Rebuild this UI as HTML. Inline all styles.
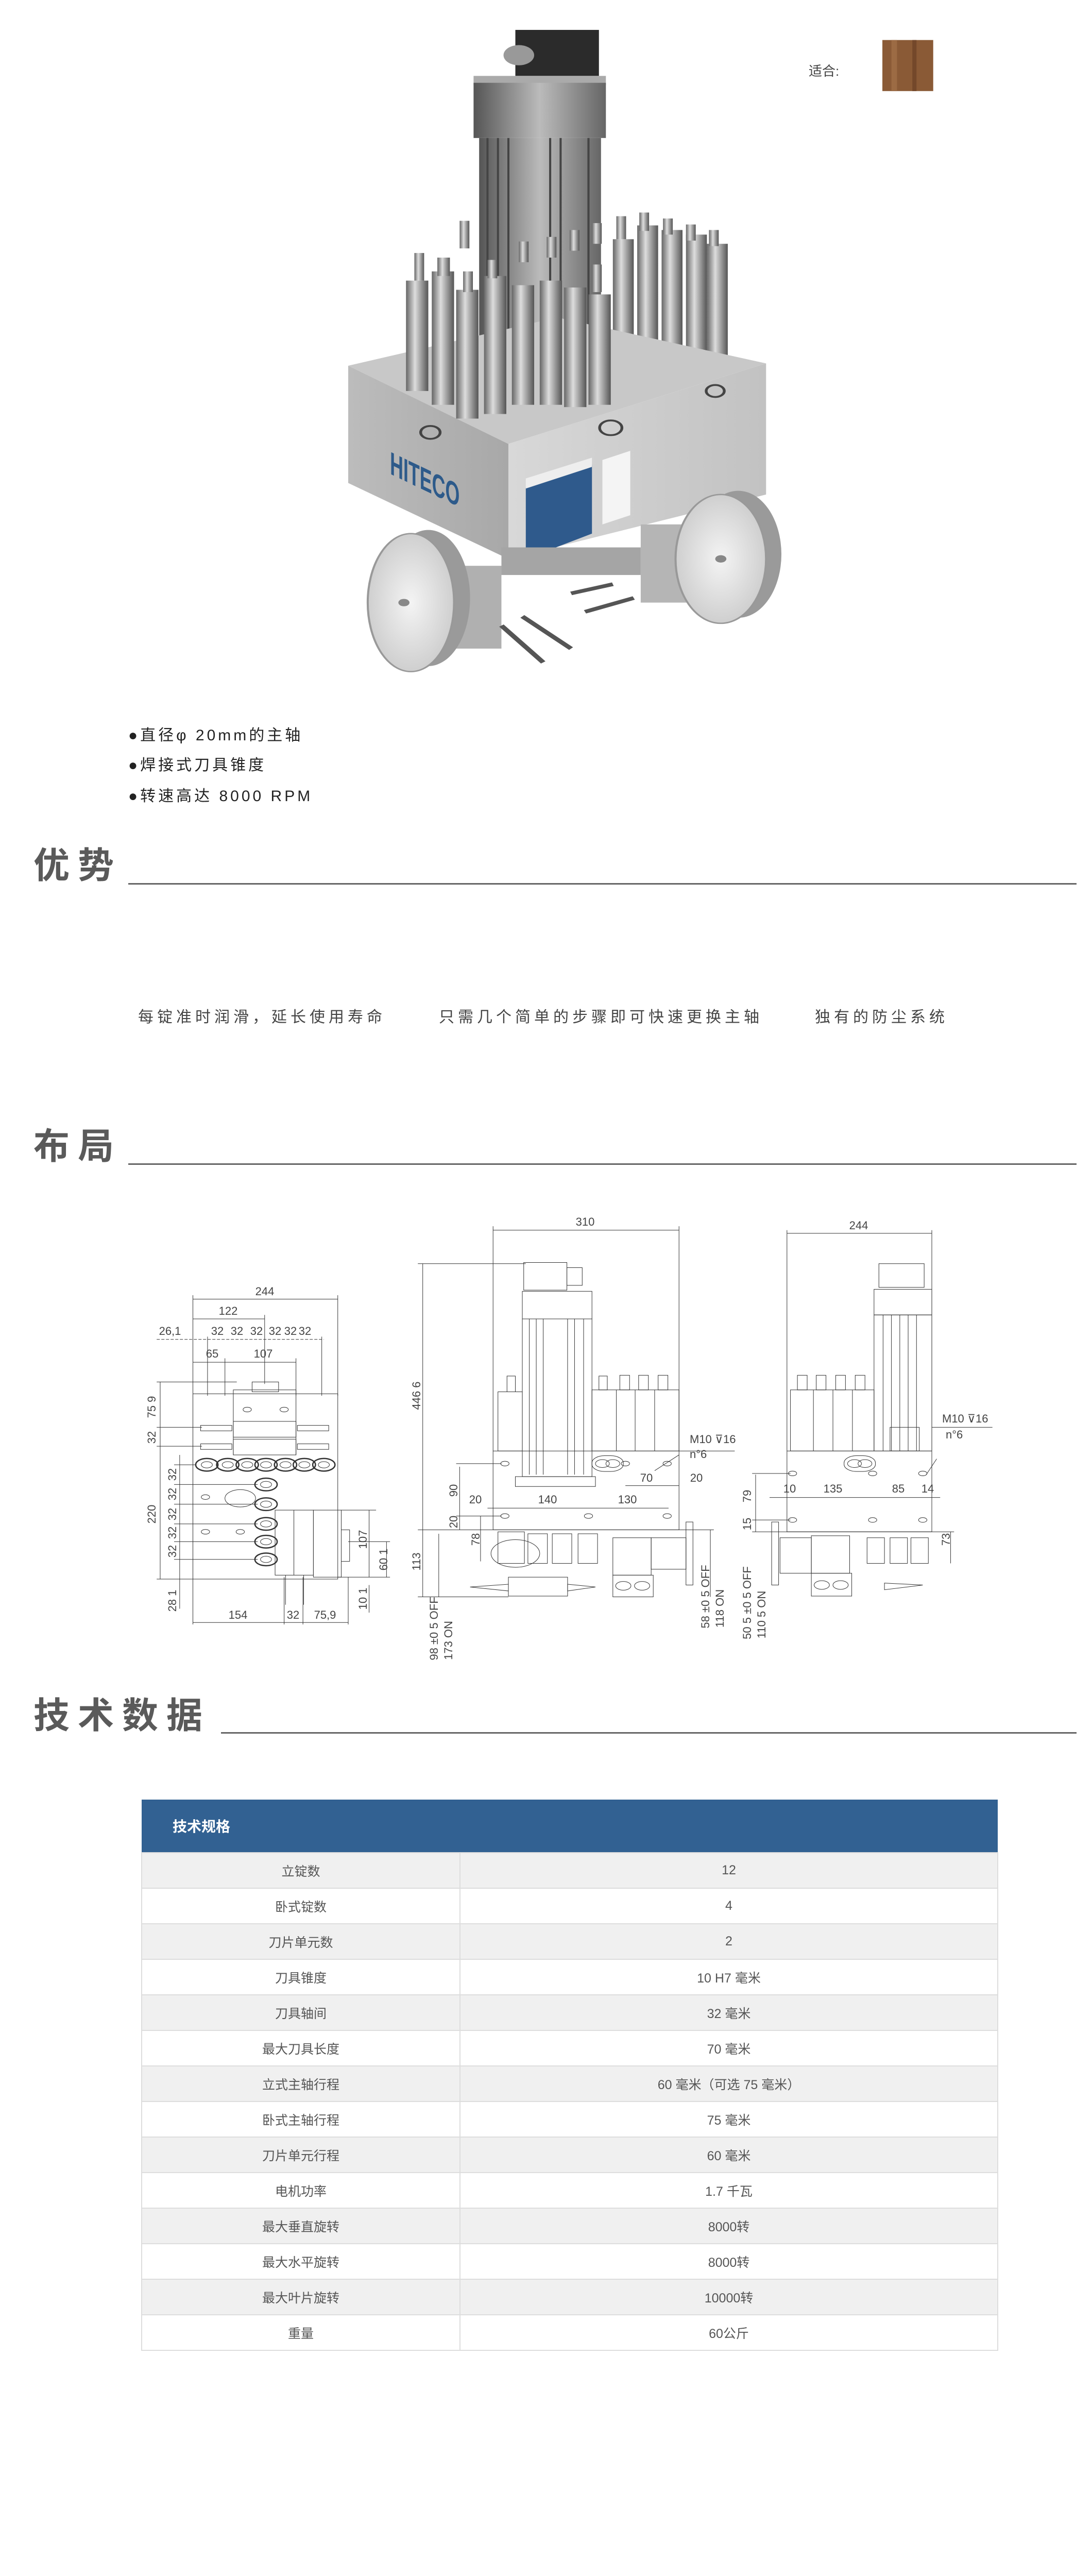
<!DOCTYPE html>
<html><head><meta charset="utf-8">
<style>
html,body{margin:0;padding:0;background:#fff;overflow:hidden;}
body{width:2120px;height:5102px;position:relative;overflow:hidden;font-family:"Liberation Sans","Noto Sans CJK SC",sans-serif;}
.abs{position:absolute;white-space:nowrap;}
.bul{font-size:30px;color:#222;letter-spacing:5px;line-height:36px;}
.h{font-size:70px;color:#5a5a5a;font-weight:bold;letter-spacing:16px;line-height:70px;}
.hl{position:absolute;height:3px;background:#666;}
.adv{font-size:30px;color:#444;letter-spacing:7px;line-height:36px;}
table{position:absolute;left:274px;top:3493px;width:1664px;border-collapse:collapse;font-family:"Liberation Sans","Noto Sans CJK SC",sans-serif;}
th{background:#326192;color:#fff;text-align:left;font-size:28px;height:102px;padding:0 0 0 60px;font-weight:bold;}
td{height:67px;border:2px solid #ddd;font-size:25px;color:#555;text-align:center;padding:0;}
tr:nth-child(even) td{background:#f0f0f0;}
</style></head><body>

<svg class="abs" style="left:0;top:0" width="2120" height="1400" viewBox="0 0 1568 1568" preserveAspectRatio="none">
<defs>
<linearGradient id="cyl" x1="0" x2="1"><stop offset="0" stop-color="#666"/><stop offset=".4" stop-color="#ddd"/><stop offset="1" stop-color="#555"/></linearGradient>
<linearGradient id="mot" x1="0" x2="1"><stop offset="0" stop-color="#555"/><stop offset=".5" stop-color="#bbb"/><stop offset="1" stop-color="#666"/></linearGradient>
<linearGradient id="fr" x1="0" x2="1"><stop offset="0" stop-color="#d8d8d8"/><stop offset="1" stop-color="#c2c2c2"/></linearGradient>
<linearGradient id="lf" x1="0" x2="1"><stop offset="0" stop-color="#bcbcbc"/><stop offset="1" stop-color="#a8a8a8"/></linearGradient>
<radialGradient id="wh"><stop offset="0" stop-color="#f4f4f4"/><stop offset="1" stop-color="#cfcfcf"/></radialGradient>
</defs>
<rect x="1267" y="87" width="73" height="111" fill="#8a5a36"/>
<rect x="1280" y="87" width="8" height="111" fill="#9c6b44"/>
<rect x="1310" y="87" width="6" height="111" fill="#74482a"/>
<rect x="740" y="65" width="120" height="100" fill="#2b2b2b"/>
<circle cx="745" cy="120" r="22" fill="#999"/>
<rect x="680" y="165" width="190" height="20" fill="#aaa"/>
<rect x="680" y="180" width="190" height="120" fill="url(#mot)"/>
<rect x="688" y="300" width="175" height="500" fill="url(#mot)"/>
<g stroke="#444" stroke-width="3">
<line x1="700" y1="300" x2="700" y2="780"/><line x1="715" y1="300" x2="715" y2="780"/><line x1="730" y1="300" x2="730" y2="780"/><line x1="790" y1="300" x2="790" y2="780"/><line x1="805" y1="300" x2="805" y2="780"/><line x1="845" y1="300" x2="845" y2="780"/>
</g>
<g fill="url(#cyl)">
<rect x="880" y="520" width="30" height="290"/><rect x="915" y="490" width="30" height="320"/><rect x="950" y="500" width="30" height="300"/><rect x="985" y="510" width="30" height="290"/><rect x="1015" y="530" width="30" height="270"/>
<rect x="885" y="470" width="14" height="50"/><rect x="918" y="462" width="14" height="40"/><rect x="952" y="475" width="14" height="35"/><rect x="985" y="488" width="14" height="35"/><rect x="1018" y="500" width="14" height="35"/>
</g>
<polygon points="500,795 800,690 1100,790 730,965" fill="#c8c8c8"/>
<polygon points="500,795 730,965 730,1215 500,1050" fill="url(#lf)"/>
<polygon points="730,965 1100,790 1100,1075 730,1215" fill="url(#fr)"/>
<g fill="url(#cyl)">
<rect x="583" y="610" width="32" height="240"/><rect x="620" y="590" width="32" height="290"/><rect x="655" y="630" width="32" height="280"/><rect x="695" y="600" width="32" height="300"/><rect x="735" y="620" width="32" height="260"/><rect x="775" y="610" width="32" height="270"/><rect x="810" y="625" width="32" height="260"/><rect x="845" y="640" width="32" height="240"/>
<rect x="595" y="550" width="14" height="60"/><rect x="628" y="560" width="18" height="40"/><rect x="660" y="480" width="14" height="60"/><rect x="665" y="590" width="14" height="45"/><rect x="700" y="565" width="14" height="40"/><rect x="745" y="525" width="14" height="45"/><rect x="785" y="515" width="14" height="45"/><rect x="818" y="500" width="14" height="45"/><rect x="850" y="575" width="14" height="60"/><rect x="850" y="485" width="14" height="45"/>
</g>
<circle cx="618" cy="940" r="14" fill="none" stroke="#444" stroke-width="4"/>
<circle cx="877" cy="930" r="16" fill="none" stroke="#444" stroke-width="4"/>
<circle cx="1027" cy="850" r="13" fill="none" stroke="#444" stroke-width="4"/>
<text x="560" y="1030" font-family="Liberation Sans" font-weight="bold" font-size="70" fill="#2d5a8a" textLength="100" lengthAdjust="spacingAndGlyphs" style="transform-origin:560px 1030px;transform:skewY(36deg)">HITECO</text>
<polygon points="755,1060 850,1010 850,1160 755,1215" fill="#2f5a8c"/>
<polygon points="755,1040 850,995 850,1015 755,1062" fill="#eee"/>
<polygon points="865,1000 905,980 905,1120 865,1140" fill="#f4f4f4"/>
<rect x="630" y="1230" width="90" height="180" fill="#b0b0b0"/>
<rect x="920" y="1140" width="80" height="170" fill="#b5b5b5"/>
<rect x="720" y="1190" width="200" height="60" fill="#a5a5a5"/>
<g stroke="#555" stroke-width="8">
<line x1="720" y1="1360" x2="780" y2="1440"/><line x1="750" y1="1340" x2="820" y2="1410"/><line x1="820" y1="1290" x2="880" y2="1270"/><line x1="840" y1="1330" x2="910" y2="1300"/>
</g>
<ellipse cx="615" cy="1300" rx="60" ry="148" fill="#9a9a9a"/>
<ellipse cx="590" cy="1310" rx="62" ry="150" fill="url(#wh)" stroke="#999" stroke-width="3"/>
<circle cx="580" cy="1310" r="8" fill="#888"/>
<ellipse cx="1060" cy="1205" rx="62" ry="138" fill="#9a9a9a"/>
<ellipse cx="1035" cy="1215" rx="65" ry="140" fill="url(#wh)" stroke="#999" stroke-width="3"/>
<circle cx="1035" cy="1215" r="8" fill="#888"/>
</svg>
<div class="abs" style="left:1570px;top:118px;font-size:26px;color:#444;">适合:</div>

<div class="abs bul" style="left:249px;top:1410px;">●直径φ 20mm的主轴</div>
<div class="abs bul" style="left:249px;top:1468px;">●焊接式刀具锥度</div>
<div class="abs bul" style="left:249px;top:1528px;">●转速高达 8000 RPM</div>

<div class="abs h" style="left:65px;top:1645px;">优势</div>
<div class="hl" style="left:249px;top:1714px;width:1841px;"></div>

<div class="abs adv" style="left:268px;top:1957px;">每锭准时润滑，延长使用寿命</div>
<div class="abs adv" style="left:852px;top:1957px;">只需几个简单的步骤即可快速更换主轴</div>
<div class="abs adv" style="left:1582px;top:1957px;">独有的防尘系统</div>

<div class="abs h" style="left:65px;top:2190px;">布局</div>
<div class="hl" style="left:249px;top:2258px;width:1841px;"></div>

<svg class="abs" style="left:0;top:2250px" width="2120" height="1200" viewBox="0 0 1568 1568" preserveAspectRatio="none">
<g fill="none" stroke="#333">
<line x1="277" y1="355" x2="485" y2="355" vector-effect="non-scaling-stroke"/>
<line x1="277" y1="405" x2="380" y2="405" vector-effect="non-scaling-stroke"/>
<line x1="225" y1="457" x2="465" y2="457" stroke-dasharray="6 3" vector-effect="non-scaling-stroke"/>
<line x1="277" y1="515" x2="425" y2="515" vector-effect="non-scaling-stroke"/>
<line x1="277" y1="345" x2="277" y2="1180" vector-effect="non-scaling-stroke"/>
<line x1="485" y1="345" x2="485" y2="600" vector-effect="non-scaling-stroke"/>
<line x1="380" y1="395" x2="380" y2="570" vector-effect="non-scaling-stroke"/>
<line x1="323" y1="505" x2="323" y2="600" vector-effect="non-scaling-stroke"/>
<line x1="425" y1="505" x2="425" y2="600" vector-effect="non-scaling-stroke"/>
<line x1="298" y1="450" x2="298" y2="600" vector-effect="non-scaling-stroke"/>
<line x1="462" y1="450" x2="462" y2="600" vector-effect="non-scaling-stroke"/>
<rect x="277" y="595" width="208" height="470" vector-effect="non-scaling-stroke"/>
<rect x="335" y="585" width="90" height="165" vector-effect="non-scaling-stroke"/>
<rect x="362" y="565" width="38" height="25" vector-effect="non-scaling-stroke"/>
<rect x="335" y="665" width="90" height="40" vector-effect="non-scaling-stroke"/>
<rect x="335" y="710" width="90" height="40" vector-effect="non-scaling-stroke"/>
<rect x="288" y="675" width="45" height="14" vector-effect="non-scaling-stroke"/>
<rect x="288" y="722" width="45" height="14" vector-effect="non-scaling-stroke"/>
<rect x="427" y="675" width="45" height="14" vector-effect="non-scaling-stroke"/>
<rect x="427" y="722" width="45" height="14" vector-effect="non-scaling-stroke"/>
<g stroke-width="2.5">
<circle cx="297" cy="775" r="16" vector-effect="non-scaling-stroke"/><circle cx="327" cy="775" r="16" vector-effect="non-scaling-stroke"/><circle cx="355" cy="775" r="16" vector-effect="non-scaling-stroke"/><circle cx="382" cy="775" r="16" vector-effect="non-scaling-stroke"/><circle cx="410" cy="775" r="16" vector-effect="non-scaling-stroke"/><circle cx="437" cy="775" r="16" vector-effect="non-scaling-stroke"/><circle cx="465" cy="775" r="16" vector-effect="non-scaling-stroke"/>
<circle cx="382" cy="825" r="16" vector-effect="non-scaling-stroke"/><circle cx="382" cy="875" r="16" vector-effect="non-scaling-stroke"/><circle cx="382" cy="925" r="16" vector-effect="non-scaling-stroke"/><circle cx="382" cy="970" r="16" vector-effect="non-scaling-stroke"/><circle cx="382" cy="1015" r="16" vector-effect="non-scaling-stroke"/>
</g>
<circle cx="297" cy="775" r="8" vector-effect="non-scaling-stroke"/><circle cx="327" cy="775" r="8" vector-effect="non-scaling-stroke"/><circle cx="355" cy="775" r="8" vector-effect="non-scaling-stroke"/><circle cx="382" cy="775" r="8" vector-effect="non-scaling-stroke"/><circle cx="410" cy="775" r="8" vector-effect="non-scaling-stroke"/><circle cx="437" cy="775" r="8" vector-effect="non-scaling-stroke"/><circle cx="465" cy="775" r="8" vector-effect="non-scaling-stroke"/>
<circle cx="382" cy="825" r="8" vector-effect="non-scaling-stroke"/><circle cx="382" cy="875" r="8" vector-effect="non-scaling-stroke"/><circle cx="382" cy="925" r="8" vector-effect="non-scaling-stroke"/><circle cx="382" cy="970" r="8" vector-effect="non-scaling-stroke"/><circle cx="382" cy="1015" r="8" vector-effect="non-scaling-stroke"/>
<circle cx="345" cy="860" r="22" vector-effect="non-scaling-stroke"/>
<circle cx="295" cy="857" r="6" vector-effect="non-scaling-stroke"/><circle cx="295" cy="945" r="6" vector-effect="non-scaling-stroke"/><circle cx="345" cy="945" r="6" vector-effect="non-scaling-stroke"/><circle cx="355" cy="635" r="6" vector-effect="non-scaling-stroke"/><circle cx="408" cy="635" r="6" vector-effect="non-scaling-stroke"/>
<rect x="395" y="890" width="55" height="165" vector-effect="non-scaling-stroke"/>
<line x1="422" y1="890" x2="422" y2="1055" vector-effect="non-scaling-stroke"/>
<rect x="450" y="890" width="40" height="170" vector-effect="non-scaling-stroke"/>
<rect x="490" y="940" width="12" height="80" vector-effect="non-scaling-stroke"/>
<line x1="410" y1="1055" x2="410" y2="1130" vector-effect="non-scaling-stroke"/><line x1="436" y1="1055" x2="436" y2="1130" vector-effect="non-scaling-stroke"/>
<line x1="230" y1="565" x2="230" y2="1065" vector-effect="non-scaling-stroke"/>
<line x1="258" y1="750" x2="258" y2="1140" vector-effect="non-scaling-stroke"/>
<line x1="225" y1="1065" x2="277" y2="1065" vector-effect="non-scaling-stroke"/>
<line x1="225" y1="565" x2="340" y2="565" vector-effect="non-scaling-stroke"/>
<line x1="225" y1="680" x2="290" y2="680" vector-effect="non-scaling-stroke"/><line x1="225" y1="728" x2="290" y2="728" vector-effect="non-scaling-stroke"/>
<line x1="250" y1="775" x2="282" y2="775" vector-effect="non-scaling-stroke"/><line x1="250" y1="825" x2="370" y2="825" vector-effect="non-scaling-stroke"/><line x1="250" y1="875" x2="370" y2="875" vector-effect="non-scaling-stroke"/><line x1="250" y1="925" x2="370" y2="925" vector-effect="non-scaling-stroke"/><line x1="250" y1="970" x2="370" y2="970" vector-effect="non-scaling-stroke"/><line x1="250" y1="1015" x2="370" y2="1015" vector-effect="non-scaling-stroke"/>
<line x1="530" y1="890" x2="530" y2="1060" vector-effect="non-scaling-stroke"/><line x1="555" y1="970" x2="555" y2="1060" vector-effect="non-scaling-stroke"/>
<line x1="490" y1="890" x2="540" y2="890" vector-effect="non-scaling-stroke"/><line x1="500" y1="970" x2="560" y2="970" vector-effect="non-scaling-stroke"/><line x1="485" y1="1060" x2="560" y2="1060" vector-effect="non-scaling-stroke"/>
<line x1="530" y1="1080" x2="530" y2="1150" vector-effect="non-scaling-stroke"/>
<line x1="277" y1="1175" x2="500" y2="1175" vector-effect="non-scaling-stroke"/>
<line x1="408" y1="1060" x2="408" y2="1180" vector-effect="non-scaling-stroke"/><line x1="435" y1="1060" x2="435" y2="1180" vector-effect="non-scaling-stroke"/><line x1="500" y1="1060" x2="500" y2="1180" vector-effect="non-scaling-stroke"/>
<line x1="708" y1="180" x2="975" y2="180" vector-effect="non-scaling-stroke"/>
<line x1="708" y1="170" x2="708" y2="740" vector-effect="non-scaling-stroke"/><line x1="975" y1="170" x2="975" y2="740" vector-effect="non-scaling-stroke"/>
<line x1="607" y1="265" x2="607" y2="1110" vector-effect="non-scaling-stroke"/>
<line x1="600" y1="265" x2="755" y2="265" vector-effect="non-scaling-stroke"/>
<rect x="752" y="262" width="62" height="70" vector-effect="non-scaling-stroke"/>
<rect x="814" y="275" width="22" height="45" vector-effect="non-scaling-stroke"/>
<rect x="750" y="335" width="100" height="70" vector-effect="non-scaling-stroke"/>
<rect x="750" y="405" width="100" height="400" vector-effect="non-scaling-stroke"/>
<rect x="740" y="805" width="115" height="25" vector-effect="non-scaling-stroke"/>
<line x1="760" y1="405" x2="760" y2="800" vector-effect="non-scaling-stroke"/><line x1="770" y1="405" x2="770" y2="800" vector-effect="non-scaling-stroke"/><line x1="780" y1="405" x2="780" y2="800" vector-effect="non-scaling-stroke"/><line x1="815" y1="405" x2="815" y2="800" vector-effect="non-scaling-stroke"/><line x1="825" y1="405" x2="825" y2="800" vector-effect="non-scaling-stroke"/><line x1="838" y1="405" x2="838" y2="800" vector-effect="non-scaling-stroke"/>
<rect x="715" y="590" width="35" height="150" vector-effect="non-scaling-stroke"/>
<rect x="728" y="550" width="12" height="40" vector-effect="non-scaling-stroke"/>
<rect x="850" y="585" width="125" height="155" vector-effect="non-scaling-stroke"/>
<line x1="885" y1="585" x2="885" y2="740" vector-effect="non-scaling-stroke"/><line x1="912" y1="585" x2="912" y2="740" vector-effect="non-scaling-stroke"/><line x1="940" y1="585" x2="940" y2="740" vector-effect="non-scaling-stroke"/>
<rect x="860" y="550" width="12" height="35" vector-effect="non-scaling-stroke"/><rect x="890" y="548" width="14" height="37" vector-effect="non-scaling-stroke"/><rect x="917" y="548" width="14" height="37" vector-effect="non-scaling-stroke"/><rect x="945" y="548" width="14" height="37" vector-effect="non-scaling-stroke"/>
<rect x="708" y="740" width="267" height="200" vector-effect="non-scaling-stroke"/>
<rect x="850" y="752" width="45" height="40" rx="18" vector-effect="non-scaling-stroke"/>
<circle cx="865" cy="772" r="10" vector-effect="non-scaling-stroke"/><circle cx="880" cy="772" r="10" vector-effect="non-scaling-stroke"/>
<circle cx="725" cy="772" r="6" vector-effect="non-scaling-stroke"/><circle cx="898" cy="772" r="6" vector-effect="non-scaling-stroke"/><circle cx="958" cy="772" r="6" vector-effect="non-scaling-stroke"/>
<circle cx="725" cy="905" r="6" vector-effect="non-scaling-stroke"/><circle cx="845" cy="905" r="6" vector-effect="non-scaling-stroke"/><circle cx="958" cy="905" r="6" vector-effect="non-scaling-stroke"/>
<line x1="655" y1="772" x2="720" y2="772" vector-effect="non-scaling-stroke"/><line x1="660" y1="780" x2="660" y2="940" vector-effect="non-scaling-stroke"/>
<line x1="655" y1="905" x2="720" y2="905" vector-effect="non-scaling-stroke"/><line x1="690" y1="905" x2="690" y2="1020" vector-effect="non-scaling-stroke"/>
<line x1="600" y1="940" x2="1025" y2="940" vector-effect="non-scaling-stroke"/>
<line x1="630" y1="950" x2="630" y2="1110" vector-effect="non-scaling-stroke"/>
<line x1="700" y1="885" x2="960" y2="885" vector-effect="non-scaling-stroke"/>
<line x1="898" y1="828" x2="975" y2="828" vector-effect="non-scaling-stroke"/>
<line x1="940" y1="790" x2="975" y2="750" vector-effect="non-scaling-stroke"/>
<line x1="975" y1="740" x2="1055" y2="740" vector-effect="non-scaling-stroke"/>
<rect x="715" y="945" width="38" height="80" vector-effect="non-scaling-stroke"/><rect x="758" y="950" width="28" height="75" vector-effect="non-scaling-stroke"/><rect x="793" y="950" width="28" height="75" vector-effect="non-scaling-stroke"/><rect x="830" y="950" width="28" height="75" vector-effect="non-scaling-stroke"/>
<rect x="880" y="960" width="55" height="95" vector-effect="non-scaling-stroke"/><rect x="935" y="960" width="50" height="80" vector-effect="non-scaling-stroke"/>
<circle cx="740" cy="1000" r="35" vector-effect="non-scaling-stroke"/>
<rect x="730" y="1060" width="85" height="48" vector-effect="non-scaling-stroke"/>
<rect x="880" y="1055" width="58" height="55" vector-effect="non-scaling-stroke"/>
<circle cx="895" cy="1082" r="11" vector-effect="non-scaling-stroke"/><circle cx="922" cy="1082" r="11" vector-effect="non-scaling-stroke"/>
<rect x="985" y="920" width="10" height="160" vector-effect="non-scaling-stroke"/>
<line x1="1020" y1="940" x2="1020" y2="1110" vector-effect="non-scaling-stroke"/>
<line x1="600" y1="1110" x2="730" y2="1110" vector-effect="non-scaling-stroke"/>
<polygon points="675,1085 730,1078 730,1095" vector-effect="non-scaling-stroke"/><polygon points="815,1078 855,1085 815,1095" vector-effect="non-scaling-stroke"/>
<line x1="1130" y1="188" x2="1338" y2="188" vector-effect="non-scaling-stroke"/>
<line x1="1130" y1="180" x2="1130" y2="740" vector-effect="non-scaling-stroke"/><line x1="1338" y1="180" x2="1338" y2="740" vector-effect="non-scaling-stroke"/>
<rect x="1262" y="265" width="65" height="60" vector-effect="non-scaling-stroke"/>
<rect x="1255" y="330" width="83" height="65" vector-effect="non-scaling-stroke"/>
<rect x="1255" y="395" width="83" height="345" vector-effect="non-scaling-stroke"/>
<line x1="1268" y1="395" x2="1268" y2="740" vector-effect="non-scaling-stroke"/><line x1="1280" y1="395" x2="1280" y2="740" vector-effect="non-scaling-stroke"/><line x1="1292" y1="395" x2="1292" y2="740" vector-effect="non-scaling-stroke"/><line x1="1304" y1="395" x2="1304" y2="740" vector-effect="non-scaling-stroke"/><line x1="1316" y1="395" x2="1316" y2="740" vector-effect="non-scaling-stroke"/>
<rect x="1278" y="680" width="42" height="60" vector-effect="non-scaling-stroke"/>
<rect x="1135" y="585" width="120" height="155" vector-effect="non-scaling-stroke"/>
<line x1="1168" y1="585" x2="1168" y2="740" vector-effect="non-scaling-stroke"/><line x1="1196" y1="585" x2="1196" y2="740" vector-effect="non-scaling-stroke"/><line x1="1224" y1="585" x2="1224" y2="740" vector-effect="non-scaling-stroke"/>
<rect x="1145" y="548" width="14" height="37" vector-effect="non-scaling-stroke"/><rect x="1172" y="548" width="14" height="37" vector-effect="non-scaling-stroke"/><rect x="1200" y="548" width="14" height="37" vector-effect="non-scaling-stroke"/><rect x="1228" y="548" width="14" height="37" vector-effect="non-scaling-stroke"/>
<rect x="1130" y="740" width="208" height="205" vector-effect="non-scaling-stroke"/>
<rect x="1212" y="752" width="45" height="40" rx="18" vector-effect="non-scaling-stroke"/>
<circle cx="1227" cy="772" r="10" vector-effect="non-scaling-stroke"/><circle cx="1242" cy="772" r="10" vector-effect="non-scaling-stroke"/>
<circle cx="1138" cy="797" r="6" vector-effect="non-scaling-stroke"/><circle cx="1253" cy="797" r="6" vector-effect="non-scaling-stroke"/><circle cx="1325" cy="797" r="6" vector-effect="non-scaling-stroke"/>
<circle cx="1138" cy="915" r="6" vector-effect="non-scaling-stroke"/><circle cx="1253" cy="915" r="6" vector-effect="non-scaling-stroke"/><circle cx="1325" cy="915" r="6" vector-effect="non-scaling-stroke"/>
<line x1="1080" y1="797" x2="1135" y2="797" vector-effect="non-scaling-stroke"/><line x1="1085" y1="800" x2="1085" y2="945" vector-effect="non-scaling-stroke"/>
<line x1="1080" y1="915" x2="1135" y2="915" vector-effect="non-scaling-stroke"/>
<line x1="1105" y1="858" x2="1350" y2="858" vector-effect="non-scaling-stroke"/>
<line x1="1080" y1="945" x2="1370" y2="945" vector-effect="non-scaling-stroke"/>
<line x1="1365" y1="945" x2="1365" y2="1025" vector-effect="non-scaling-stroke"/>
<line x1="1338" y1="680" x2="1425" y2="680" vector-effect="non-scaling-stroke"/>
<line x1="1330" y1="800" x2="1345" y2="760" vector-effect="non-scaling-stroke"/>
<rect x="1120" y="960" width="45" height="90" vector-effect="non-scaling-stroke"/><rect x="1165" y="955" width="55" height="95" vector-effect="non-scaling-stroke"/><rect x="1245" y="960" width="25" height="65" vector-effect="non-scaling-stroke"/><rect x="1278" y="960" width="25" height="65" vector-effect="non-scaling-stroke"/><rect x="1308" y="960" width="25" height="65" vector-effect="non-scaling-stroke"/>
<rect x="1165" y="1050" width="58" height="58" vector-effect="non-scaling-stroke"/>
<circle cx="1180" cy="1080" r="11" vector-effect="non-scaling-stroke"/><circle cx="1207" cy="1080" r="11" vector-effect="non-scaling-stroke"/>
<rect x="1108" y="920" width="10" height="160" vector-effect="non-scaling-stroke"/>
<polygon points="1270,1075 1325,1080 1270,1092" vector-effect="non-scaling-stroke"/>
</g>
</svg>

<!-- drawing labels (undistorted, page coords) -->
<svg class="abs" style="left:0;top:0" width="2120" height="3300" viewBox="0 0 2120 3300" font-family="Liberation Sans" font-size="22" fill="#444" text-anchor="middle">
<text x="514" y="2514">244</text>
<text x="443" y="2552">122</text>
<text x="330" y="2591">26,1</text>
<text x="422" y="2591">32</text><text x="460" y="2591">32</text><text x="498" y="2591">32</text><text x="534" y="2591">32</text><text x="564" y="2591">32</text><text x="592" y="2591">32</text>
<text x="412" y="2635">65</text><text x="511" y="2635">107</text>
<text x="462" y="3142">154</text><text x="569" y="3142">32</text><text x="631" y="3142">75,9</text>
<text transform="translate(302,2731) rotate(-90)">75 9</text>
<text transform="translate(302,2790) rotate(-90)">32</text>
<text transform="translate(342,2862) rotate(-90)">32</text>
<text transform="translate(342,2900) rotate(-90)">32</text>
<text transform="translate(342,2939) rotate(-90)">32</text>
<text transform="translate(342,2975) rotate(-90)">32</text>
<text transform="translate(342,3011) rotate(-90)">32</text>
<text transform="translate(302,2939) rotate(-90)">220</text>
<text transform="translate(342,3107) rotate(-90)">28 1</text>
<text transform="translate(712,2988) rotate(-90)">107</text>
<text transform="translate(752,3027) rotate(-90)">60 1</text>
<text transform="translate(712,3103) rotate(-90)">10 1</text>
<text x="1136" y="2379">310</text>
<text transform="translate(816,2709) rotate(-90)">446 6</text>
<text transform="translate(888,2893) rotate(-90)">90</text>
<text transform="translate(888,2954) rotate(-90)">20</text>
<text transform="translate(931,2988) rotate(-90)">78</text>
<text transform="translate(816,3031) rotate(-90)">113</text>
<text x="923" y="2918">20</text><text x="1063" y="2918">140</text><text x="1218" y="2918">130</text>
<text x="1255" y="2876">70</text><text x="1352" y="2876">20</text>
<text x="1339" y="2801" text-anchor="start">M10 ⊽16</text><text x="1339" y="2830" text-anchor="start">n°6</text>
<text transform="translate(850,3161) rotate(-90)">98 ±0 5 OFF</text>
<text transform="translate(878,3184) rotate(-90)">173 ON</text>
<text transform="translate(1377,3099) rotate(-90)">58 ±0 5 OFF</text>
<text transform="translate(1405,3122) rotate(-90)">118 ON</text>
<text x="1667" y="2386">244</text>
<text x="1533" y="2897">10</text><text x="1617" y="2897">135</text><text x="1744" y="2897">85</text><text x="1801" y="2897">14</text>
<text transform="translate(1458,2904) rotate(-90)">79</text>
<text transform="translate(1458,2958) rotate(-90)">15</text>
<text transform="translate(1844,2988) rotate(-90)">73</text>
<text x="1829" y="2761" text-anchor="start">M10 ⊽16</text><text x="1836" y="2792" text-anchor="start">n°6</text>
<text transform="translate(1458,3111) rotate(-90)">50 5 ±0 5 OFF</text>
<text transform="translate(1486,3134) rotate(-90)">110 5 ON</text>
</svg>

<div class="abs h" style="left:65px;top:3295px;">技术数据</div>
<div class="hl" style="left:429px;top:3362px;width:1661px;"></div>

<table>
<tr><th colspan="2">技术规格</th></tr>
<tr><td style="width:616px">立锭数</td><td>12</td></tr>
<tr><td>卧式锭数</td><td>4</td></tr>
<tr><td>刀片单元数</td><td>2</td></tr>
<tr><td>刀具锥度</td><td>10 H7 毫米</td></tr>
<tr><td>刀具轴间</td><td>32 毫米</td></tr>
<tr><td>最大刀具长度</td><td>70 毫米</td></tr>
<tr><td>立式主轴行程</td><td>60 毫米（可选 75 毫米）</td></tr>
<tr><td>卧式主轴行程</td><td>75 毫米</td></tr>
<tr><td>刀片单元行程</td><td>60 毫米</td></tr>
<tr><td>电机功率</td><td>1.7 千瓦</td></tr>
<tr><td>最大垂直旋转</td><td>8000转</td></tr>
<tr><td>最大水平旋转</td><td>8000转</td></tr>
<tr><td>最大叶片旋转</td><td>10000转</td></tr>
<tr><td>重量</td><td>60公斤</td></tr>
</table>
</body></html>
